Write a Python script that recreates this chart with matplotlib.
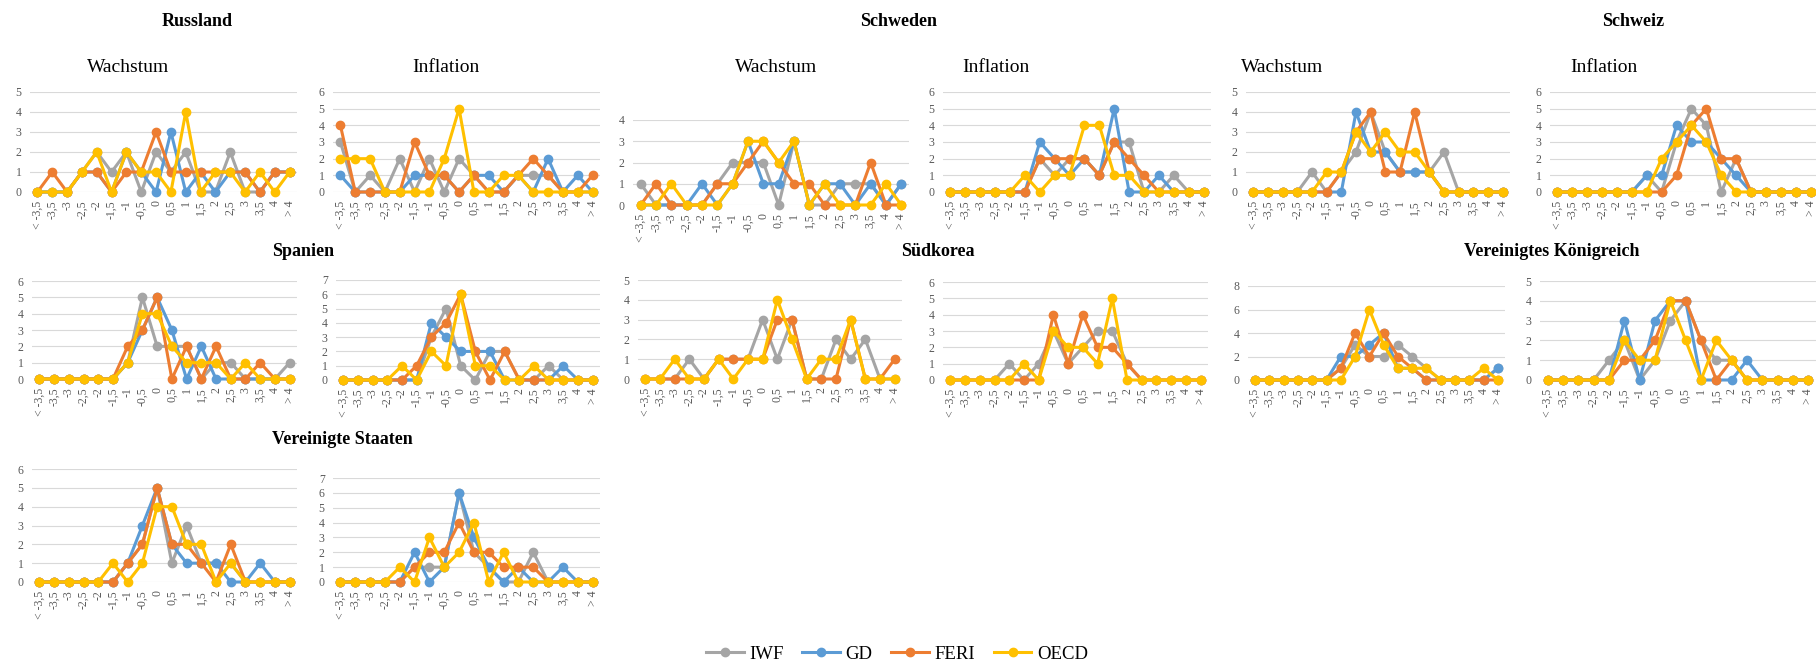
import matplotlib; matplotlib.use("Agg")
import matplotlib.pyplot as plt
from matplotlib.lines import Line2D

plt.rcParams["font.family"] = ["Liberation Serif", "DejaVu Serif"]

W, H = 1816, 667
GREY = "#A5A5A5"; BLUE = "#5B9BD5"; ORANGE = "#ED7D31"; YELLOW = "#FFC000"
TICK = "#595959"; GRID = "#D9D9D9"

cats = ["< -3,5", "-3,5", "-3", "-2,5", "-2", "-1,5", "-1", "-0,5", "0", "0,5",
        "1", "1,5", "2", "2,5", "3", "3,5", "4", "> 4"]
series_names = ["IWF", "GD", "FERI", "OECD"]
series_colors = [GREY, BLUE, ORANGE, YELLOW]

# Russland
ru_w_iwf  = [0, 0, 0, 1, 2, 1, 2, 0, 2, 1, 2, 0, 0, 2, 0, 0, 1, 1]
ru_w_gd   = [0, 0, 0, 1, 1, 0, 2, 1, 0, 3, 0, 1, 0, 1, 1, 0, 1, 1]
ru_w_feri = [0, 1, 0, 1, 1, 0, 1, 1, 3, 1, 1, 1, 1, 1, 1, 0, 1, 1]
ru_w_oecd = [0, 0, 0, 1, 2, 0, 2, 1, 1, 0, 4, 0, 1, 1, 0, 1, 0, 1]
ru_i_iwf  = [3, 0, 1, 0, 2, 0, 2, 0, 2, 1, 0, 0, 1, 1, 1, 0, 0, 0]
ru_i_gd   = [1, 0, 0, 0, 0, 1, 1, 1, 0, 1, 1, 0, 1, 0, 2, 0, 1, 0]
ru_i_feri = [4, 0, 0, 0, 0, 3, 1, 1, 0, 1, 0, 0, 1, 2, 1, 0, 0, 1]
ru_i_oecd = [2, 2, 2, 0, 0, 0, 0, 2, 5, 0, 0, 1, 1, 0, 0, 0, 0, 0]
# Schweden
se_w_iwf  = [1, 0, 0, 0, 0, 1, 2, 2, 2, 0, 3, 0, 0, 1, 1, 1, 0, 1]
se_w_gd   = [0, 0, 0, 0, 1, 0, 1, 3, 1, 1, 3, 0, 1, 1, 0, 1, 0, 1]
se_w_feri = [0, 1, 0, 0, 0, 1, 1, 2, 3, 2, 1, 1, 0, 0, 0, 2, 0, 0]
se_w_oecd = [0, 0, 1, 0, 0, 0, 1, 3, 3, 2, 3, 0, 1, 0, 0, 0, 1, 0]
se_i_iwf  = [0, 0, 0, 0, 0, 0, 2, 1, 2, 2, 1, 3, 3, 0, 0, 1, 0, 0]
se_i_gd   = [0, 0, 0, 0, 0, 0, 3, 2, 1, 2, 1, 5, 0, 0, 1, 0, 0, 0]
se_i_feri = [0, 0, 0, 0, 0, 0, 2, 2, 2, 2, 1, 3, 2, 1, 0, 0, 0, 0]
se_i_oecd = [0, 0, 0, 0, 0, 1, 0, 1, 1, 4, 4, 1, 1, 0, 0, 0, 0, 0]
# Schweiz
ch_w_iwf  = [0, 0, 0, 0, 1, 0, 1, 2, 4, 2, 1, 1, 1, 2, 0, 0, 0, 0]
ch_w_gd   = [0, 0, 0, 0, 0, 0, 0, 4, 2, 2, 1, 1, 1, 0, 0, 0, 0, 0]
ch_w_feri = [0, 0, 0, 0, 0, 0, 1, 3, 4, 1, 1, 4, 1, 0, 0, 0, 0, 0]
ch_w_oecd = [0, 0, 0, 0, 0, 1, 1, 3, 2, 3, 2, 2, 1, 0, 0, 0, 0, 0]
ch_i_iwf  = [0, 0, 0, 0, 0, 0, 1, 0, 3, 5, 4, 0, 2, 0, 0, 0, 0, 0]
ch_i_gd   = [0, 0, 0, 0, 0, 0, 1, 1, 4, 3, 3, 2, 1, 0, 0, 0, 0, 0]
ch_i_feri = [0, 0, 0, 0, 0, 0, 0, 0, 1, 4, 5, 2, 2, 0, 0, 0, 0, 0]
ch_i_oecd = [0, 0, 0, 0, 0, 0, 0, 2, 3, 4, 3, 1, 0, 0, 0, 0, 0, 0]
# Spanien
es_w_iwf  = [0, 0, 0, 0, 0, 0, 1, 5, 2, 2, 2, 0, 1, 1, 0, 0, 0, 1]
es_w_gd   = [0, 0, 0, 0, 0, 0, 1, 3, 5, 3, 0, 2, 0, 0, 0, 0, 0, 0]
es_w_feri = [0, 0, 0, 0, 0, 0, 2, 3, 5, 0, 2, 0, 2, 0, 0, 1, 0, 0]
es_w_oecd = [0, 0, 0, 0, 0, 0, 1, 4, 4, 2, 1, 1, 1, 0, 1, 0, 0, 0]
es_i_iwf  = [0, 0, 0, 0, 0, 0, 3, 5, 1, 0, 2, 2, 0, 0, 1, 0, 0, 0]
es_i_gd   = [0, 0, 0, 0, 0, 0, 4, 3, 2, 2, 2, 0, 0, 0, 0, 1, 0, 0]
es_i_feri = [0, 0, 0, 0, 0, 1, 3, 4, 6, 2, 0, 2, 0, 0, 0, 0, 0, 0]
es_i_oecd = [0, 0, 0, 0, 1, 0, 2, 1, 6, 1, 1, 0, 0, 1, 0, 0, 0, 0]
# Südkorea (keine GD-Werte)
kr_w_iwf  = [0, 0, 0, 1, 0, 1, 1, 1, 3, 1, 3, 0, 0, 2, 1, 2, 0, 0]
kr_w_feri = [0, 0, 0, 0, 0, 1, 1, 1, 1, 3, 3, 0, 0, 0, 3, 0, 0, 1]
kr_w_oecd = [0, 0, 1, 0, 0, 1, 0, 1, 1, 4, 2, 0, 1, 1, 3, 0, 0, 0]
kr_i_iwf  = [0, 0, 0, 0, 1, 0, 1, 3, 1, 2, 3, 3, 1, 0, 0, 0, 0, 0]
kr_i_feri = [0, 0, 0, 0, 0, 0, 0, 4, 1, 4, 2, 2, 1, 0, 0, 0, 0, 0]
kr_i_oecd = [0, 0, 0, 0, 0, 1, 0, 3, 2, 2, 1, 5, 0, 0, 0, 0, 0, 0]
# Vereinigtes Königreich
uk_w_iwf  = [0, 0, 0, 0, 0, 0, 1, 3, 2, 2, 3, 2, 1, 0, 0, 0, 0, 1]
uk_w_gd   = [0, 0, 0, 0, 0, 0, 2, 2, 3, 4, 1, 1, 0, 0, 0, 0, 0, 1]
uk_w_feri = [0, 0, 0, 0, 0, 0, 1, 4, 2, 4, 2, 1, 0, 0, 0, 0, 0, 0]
uk_w_oecd = [0, 0, 0, 0, 0, 0, 0, 2, 6, 3, 1, 1, 1, 0, 0, 0, 1, 0]
uk_i_iwf  = [0, 0, 0, 0, 1, 2, 0, 1, 3, 4, 2, 1, 1, 0, 0, 0, 0, 0]
uk_i_gd   = [0, 0, 0, 0, 0, 3, 0, 3, 4, 4, 0, 0, 0, 1, 0, 0, 0, 0]
uk_i_feri = [0, 0, 0, 0, 0, 1, 1, 2, 4, 4, 2, 0, 1, 0, 0, 0, 0, 0]
uk_i_oecd = [0, 0, 0, 0, 0, 2, 1, 1, 4, 2, 0, 2, 1, 0, 0, 0, 0, 0]
# Vereinigte Staaten
us_w_iwf  = [0, 0, 0, 0, 0, 0, 1, 2, 5, 1, 3, 1, 1, 1, 0, 0, 0, 0]
us_w_gd   = [0, 0, 0, 0, 0, 0, 1, 3, 5, 2, 1, 1, 1, 0, 0, 1, 0, 0]
us_w_feri = [0, 0, 0, 0, 0, 0, 1, 2, 5, 2, 2, 1, 0, 2, 0, 0, 0, 0]
us_w_oecd = [0, 0, 0, 0, 0, 1, 0, 1, 4, 4, 2, 2, 0, 1, 0, 0, 0, 0]
us_i_iwf  = [0, 0, 0, 0, 0, 1, 1, 1, 6, 2, 1, 0, 0, 2, 0, 0, 0, 0]
us_i_gd   = [0, 0, 0, 0, 0, 2, 0, 1, 6, 3, 1, 0, 1, 0, 0, 1, 0, 0]
us_i_feri = [0, 0, 0, 0, 0, 1, 2, 2, 4, 2, 2, 1, 1, 1, 0, 0, 0, 0]
us_i_oecd = [0, 0, 0, 0, 1, 0, 3, 1, 2, 4, 0, 2, 0, 0, 0, 0, 0, 0]

fig = plt.figure(figsize=(W / 100, H / 100), dpi=100)

def panel(box, ymax, step, data):
    x0, x1, ytop, yzero = box
    ax = fig.add_axes([x0 / W, 1 - yzero / H, (x1 - x0) / W, (yzero - ytop) / H])
    for vals, col in zip(data, series_colors):
        if vals is None:
            continue
        ax.plot(range(len(cats)), vals, color=col, lw=2.2, marker="o", ms=6, clip_on=False, zorder=3)
    ax.set_xlim(-0.5, len(cats) - 0.5); ax.set_ylim(0, ymax)
    ax.set_yticks(range(0, ymax + 1, step))
    ax.set_xticks(range(len(cats)))
    ax.set_xticklabels(cats, rotation=90, ha="center", va="top")
    ax.tick_params(length=0, labelsize=8.5, colors=TICK, pad=6)
    ax.grid(axis="y", color=GRID, lw=0.8, zorder=0)
    for s in ax.spines.values():
        s.set_visible(False)
    return ax

panel((30, 297, 92, 192), 5, 1, [ru_w_iwf, ru_w_gd, ru_w_feri, ru_w_oecd])
panel((333, 600, 92, 192), 6, 1, [ru_i_iwf, ru_i_gd, ru_i_feri, ru_i_oecd])
panel((633, 909, 120, 205), 4, 1, [se_w_iwf, se_w_gd, se_w_feri, se_w_oecd])
panel((943, 1211, 92, 192), 6, 1, [se_i_iwf, se_i_gd, se_i_feri, se_i_oecd])
panel((1246, 1510, 92, 192), 5, 1, [ch_w_iwf, ch_w_gd, ch_w_feri, ch_w_oecd])
panel((1550, 1818, 92, 192), 6, 1, [ch_i_iwf, ch_i_gd, ch_i_feri, ch_i_oecd])
panel((32, 297, 281, 379), 6, 1, [es_w_iwf, es_w_gd, es_w_feri, es_w_oecd])
panel((336, 600, 280, 380), 7, 1, [es_i_iwf, es_i_gd, es_i_feri, es_i_oecd])
panel((638, 902, 280, 379), 5, 1, [kr_w_iwf, None, kr_w_feri, kr_w_oecd])
panel((943, 1208, 282, 380), 6, 1, [kr_i_iwf, None, kr_i_feri, kr_i_oecd])
panel((1248, 1505, 286, 380), 8, 2, [uk_w_iwf, uk_w_gd, uk_w_feri, uk_w_oecd])
panel((1540, 1816, 281, 380), 5, 1, [uk_i_iwf, uk_i_gd, uk_i_feri, uk_i_oecd])
panel((32, 297, 469, 582), 6, 1, [us_w_iwf, us_w_gd, us_w_feri, us_w_oecd])
panel((333, 600, 478, 582), 7, 1, [us_i_iwf, us_i_gd, us_i_feri, us_i_oecd])

# titles (pixel positions)
def ftext(x, y, s, **kw):
    fig.text(x / W, 1 - y / H, s, ha="center", va="center", **kw)

for x, y, s in [(197, 21, "Russland"), (899, 21, "Schweden"), (1633, 21, "Schweiz"),
                (303, 252, "Spanien"), (938, 252, "Südkorea"), (1552, 252, "Vereinigtes Königreich"),
                (342, 440, "Vereinigte Staaten")]:
    ftext(x, y, s, fontsize=13, fontweight="bold")
for x, s in [(128, "Wachstum"), (446, "Inflation"), (776, "Wachstum"), (996, "Inflation"),
             (1282, "Wachstum"), (1604, "Inflation")]:
    ftext(x, 67, s, fontsize=14)

handles = [Line2D([], [], color=c, lw=2.2, marker="o", ms=6) for c in series_colors]
fig.legend(handles, series_names, loc="center", bbox_to_anchor=(897 / W, 1 - 654 / H), ncol=4,
           frameon=False, fontsize=13.5, handlelength=2.0, columnspacing=1.0, handletextpad=0.3)

fig.savefig("out.png", dpi=100)
